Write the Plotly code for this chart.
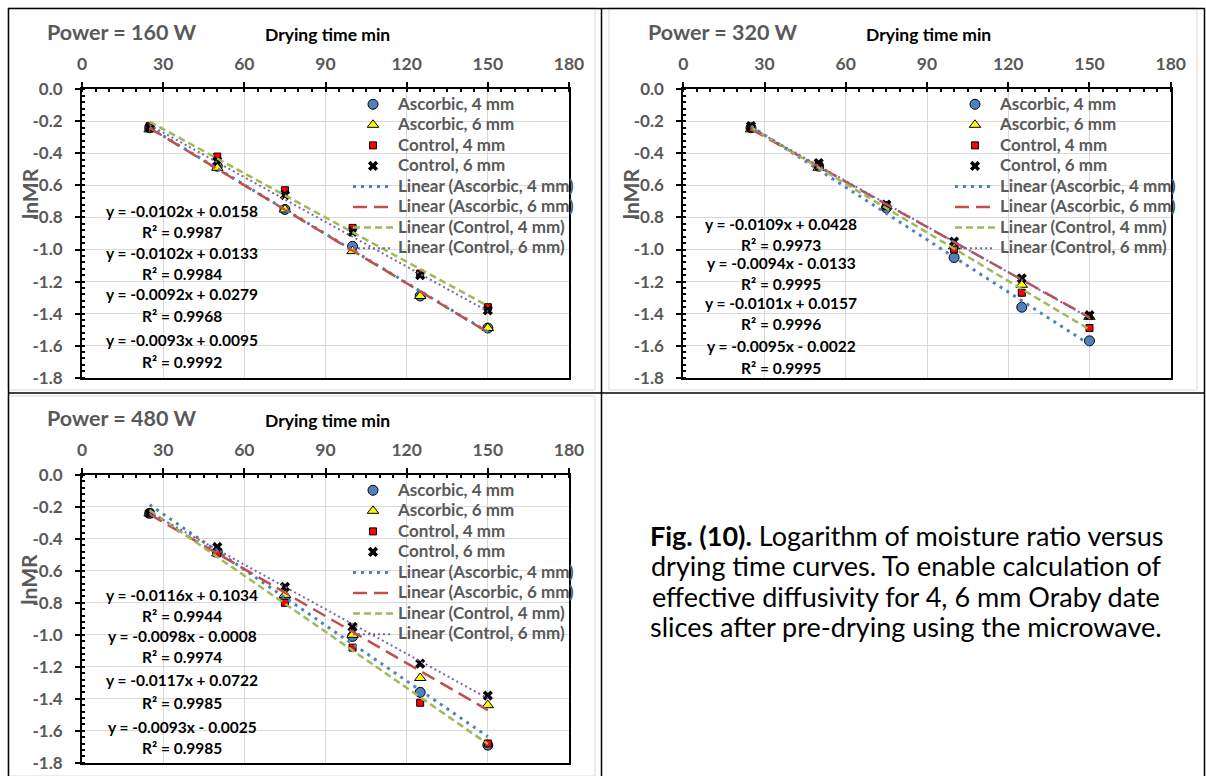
import plotly.graph_objects as go

W, H = 1206, 776

# ---------------- data ----------------
time_min = [25, 50, 75, 100, 125, 150]
series_names = ["Ascorbic, 4 mm", "Ascorbic, 6 mm", "Control, 4 mm", "Control, 6 mm"]
x_ticks = [0, 30, 60, 90, 120, 150, 180]
y_ticks = [0.0, -0.2, -0.4, -0.6, -0.8, -1.0, -1.2, -1.4, -1.6, -1.8]

# Power = 160 W
p160_asc4 = [-0.24, -0.48, -0.75, -0.98, -1.29, -1.49]
p160_asc6 = [-0.25, -0.49, -0.75, -1.01, -1.29, -1.49]
p160_ctl4 = [-0.23, -0.42, -0.63, -0.865, -1.15, -1.36]
p160_ctl6 = [-0.24, -0.45, -0.66, -0.89, -1.16, -1.38]
p160_slope = [-0.0102, -0.0102, -0.0092, -0.0093]
p160_icpt = [0.0158, 0.0133, 0.0279, 0.0095]
p160_r2 = [0.9987, 0.9984, 0.9968, 0.9992]

# Power = 320 W
p320_asc4 = [-0.24, -0.48, -0.74, -1.05, -1.36, -1.57]
p320_asc6 = [-0.25, -0.49, -0.73, -0.98, -1.22, -1.42]
p320_ctl4 = [-0.24, -0.48, -0.73, -1.00, -1.27, -1.49]
p320_ctl6 = [-0.23, -0.46, -0.72, -0.95, -1.18, -1.41]
p320_slope = [-0.0109, -0.0094, -0.0101, -0.0095]
p320_icpt = [0.0428, -0.0133, 0.0157, -0.0022]
p320_r2 = [0.9973, 0.9995, 0.9996, 0.9995]

# Power = 480 W
p480_asc4 = [-0.24, -0.48, -0.77, -1.01, -1.36, -1.69]
p480_asc6 = [-0.24, -0.49, -0.75, -1.00, -1.27, -1.44]
p480_ctl4 = [-0.24, -0.49, -0.80, -1.08, -1.425, -1.68]
p480_ctl6 = [-0.24, -0.45, -0.70, -0.95, -1.18, -1.38]
p480_slope = [-0.0116, -0.0098, -0.0117, -0.0093]
p480_icpt = [0.1034, -0.0008, 0.0722, -0.0025]
p480_r2 = [0.9944, 0.9974, 0.9985, 0.9985]

caption_lines = [
    "<b>Fig. (10).</b> Logarithm of moisture ratio versus",
    "drying time curves. To enable calculation of",
    "effective diffusivity for 4, 6 mm Oraby date",
    "slices after pre-drying using the microwave.",
]

# ---------------- styles ----------------
FONT = "Lato"
GRAY = "#595959"
marker_styles = [
    dict(symbol="circle", size=10, color="#4F81BD", line=dict(color="black", width=1)),
    dict(symbol="triangle-up", size=10, color="#FFFF00", line=dict(color="black", width=1)),
    dict(symbol="square", size=7, color="#FF0000", line=dict(color="black", width=1)),
    dict(symbol="x", size=9, color="black", line=dict(width=0)),
]
line_styles = [
    dict(color="#4F81BD", width=3, dash="3px,5px"),
    dict(color="#C0504D", width=2.5, dash="14px,7px"),
    dict(color="#9BBB59", width=2.5, dash="7px,4px"),
    dict(color="#8064A2", width=2, dash="2px,3px"),
]
LEG_SPAN = "<span style='font-size:17px'>{}</span>"


def px(x):
    return x / W


def py(y):
    return 1 - y / H


panels = [
    dict(title="Power = 160 W", data=[p160_asc4, p160_asc6, p160_ctl4, p160_ctl6],
         slope=p160_slope, icpt=p160_icpt, r2=p160_r2,
         xl=82, xr=569, yt=89.3, yb=377.7, off_x=0, off_y=0,
         eq_y=[210.7, 231.7, 252.7, 274, 294, 316, 340, 362], eq_x=182,
         leg=(348, 89)),
    dict(title="Power = 320 W", data=[p320_asc4, p320_asc6, p320_ctl4, p320_ctl6],
         slope=p320_slope, icpt=p320_icpt, r2=p320_r2,
         xl=683.3, xr=1170.7, yt=89.3, yb=377.7, off_x=601.3, off_y=0,
         eq_y=[224, 245, 262.7, 284, 303, 324, 345.7, 367.7], eq_x=781,
         leg=(950, 89)),
    dict(title="Power = 480 W", data=[p480_asc4, p480_asc6, p480_ctl4, p480_ctl6],
         slope=p480_slope, icpt=p480_icpt, r2=p480_r2,
         xl=82, xr=569, yt=475, yb=762.7, off_x=0, off_y=385.7,
         eq_y=[595, 616, 635.7, 657, 680, 702.7, 726.7, 748.3], eq_x=182,
         leg=(348, 475)),
]

fig = go.Figure()
annotations = []
legend_keys = ["legend", "legend2", "legend3"]

for i, p in enumerate(panels):
    sfx = "" if i == 0 else str(i + 1)
    xa, ya = "x" + sfx, "y" + sfx
    leg = legend_keys[i]
    for k, name in enumerate(series_names):
        fig.add_trace(go.Scatter(
            x=time_min, y=p["data"][k], mode="markers", name=LEG_SPAN.format(name),
            marker=marker_styles[k], xaxis=xa, yaxis=ya, legend=leg, legendrank=k + 1))
    for k, name in enumerate(series_names):
        xs = [time_min[0], time_min[-1]]
        ys = [p["slope"][k] * t + p["icpt"][k] for t in xs]
        fig.add_trace(go.Scatter(
            x=xs, y=ys, mode="lines", name=LEG_SPAN.format("Linear (" + name + ")"),
            line=line_styles[k], xaxis=xa, yaxis=ya, legend=leg, legendrank=k + 5))

    axis_common = dict(showline=True, linecolor="black", linewidth=2, mirror=True,
                       showgrid=True, gridcolor="#D9D9D9", gridwidth=1, zeroline=False,
                       automargin=False,
                       ticks="outside", ticklen=5, tickwidth=1.5, tickcolor="black")
    fig.layout["xaxis" + sfx] = dict(
        axis_common, domain=[px(p["xl"]), px(p["xr"])], range=[0, 180], side="top",
        anchor=ya, tickmode="array", tickvals=x_ticks, ticktext=[str(v) for v in x_ticks],
        tickfont=dict(family=FONT, size=17.5, color=GRAY, weight="bold"),
        ticklabelstandoff=5,
        minor=dict(tick0=0, dtick=5, ticks="inside", ticklen=3, tickcolor="black", showgrid=False))
    fig.layout["yaxis" + sfx] = dict(
        axis_common, domain=[py(p["yb"]), py(p["yt"])], range=[-1.8, 0],
        anchor=xa, tickmode="array", tickvals=y_ticks, ticktext=[f"{v:.1f}" for v in y_ticks],
        tickfont=dict(family=FONT, size=17, color=GRAY, weight="bold"),
        ticklabelstandoff=9,
        minor=dict(tick0=0, dtick=0.04, ticks="inside", ticklen=3, tickcolor="black", showgrid=False))

    fig.layout[leg] = dict(x=px(p["leg"][0]), y=py(p["leg"][1]), xanchor="left", yanchor="top",
                           bgcolor="rgba(0,0,0,0)", borderwidth=0, tracegroupgap=0, itemwidth=40,
                           font=dict(family=FONT, size=13.5, color=GRAY, weight="bold"))

    ox, oy = p["off_x"], p["off_y"]
    annotations.append(dict(text=p["title"], x=px(45 + ox), y=py(32 + oy), xref="paper", yref="paper",
                            xanchor="left", yanchor="middle", showarrow=False,
                            font=dict(family=FONT, size=21.5, color=GRAY, weight="bold")))
    annotations.append(dict(text="Drying time min", x=px(327 + ox), y=py(35 + oy), xref="paper",
                            yref="paper", xanchor="center", yanchor="middle", showarrow=False,
                            font=dict(family=FONT, size=17.5, color="black", weight="bold")))
    annotations.append(dict(text="lnMR", x=px(29 + ox), y=py(194 + oy), xref="paper", yref="paper",
                            xanchor="center", yanchor="middle", showarrow=False, textangle=-90,
                            font=dict(family=FONT, size=21, color=GRAY, weight="bold")))
    for k in range(4):
        m, b = p["slope"][k], p["icpt"][k]
        sign = "+" if b >= 0 else "-"
        eq = f"y = {m:.4f}x {sign} {abs(b):.4f}"
        r2 = f"R² = {p['r2'][k]:.4f}"
        for j, t in enumerate([eq, r2]):
            annotations.append(dict(text=t, x=px(p["eq_x"]), y=py(p["eq_y"][2 * k + j]),
                                    xref="paper", yref="paper", xanchor="center", yanchor="middle",
                                    showarrow=False,
                                    font=dict(family=FONT, size=15.5, color="black", weight="bold")))

for j, line in enumerate(caption_lines):
    annotations.append(dict(text=line, x=px(906), y=py(535 + 30.5 * j), xref="paper", yref="paper",
                            xanchor="center", yanchor="middle", showarrow=False,
                            font=dict(family=FONT, size=27, color="black")))

shapes = []
# chart-area borders (light gray)
for (x0, y0, x1, y1) in [(8, 8, 595, 390), (609, 8, 1197, 390), (8, 396, 595, 776)]:
    shapes.append(dict(type="rect", xref="paper", yref="paper", x0=px(x0), x1=px(x1),
                       y0=py(y1), y1=py(y0), line=dict(color="#D9D9D9", width=1)))
# table frame lines
for (x0, y0, x1, y1) in [(8, 8.5, 1205, 8.5), (8.5, 8, 8.5, 776), (601.5, 8, 601.5, 776),
                         (1204.5, 8, 1204.5, 776), (8, 393, 1205, 393)]:
    shapes.append(dict(type="line", xref="paper", yref="paper", x0=px(x0), x1=px(x1),
                       y0=py(y0), y1=py(y1), line=dict(color="black", width=1.5)))

fig.update_layout(width=W, height=H, margin=dict(l=0, r=0, t=0, b=0, autoexpand=False),
                  paper_bgcolor="white", plot_bgcolor="white", showlegend=True,
                  annotations=annotations, shapes=shapes)

fig.write_html("out.html")
